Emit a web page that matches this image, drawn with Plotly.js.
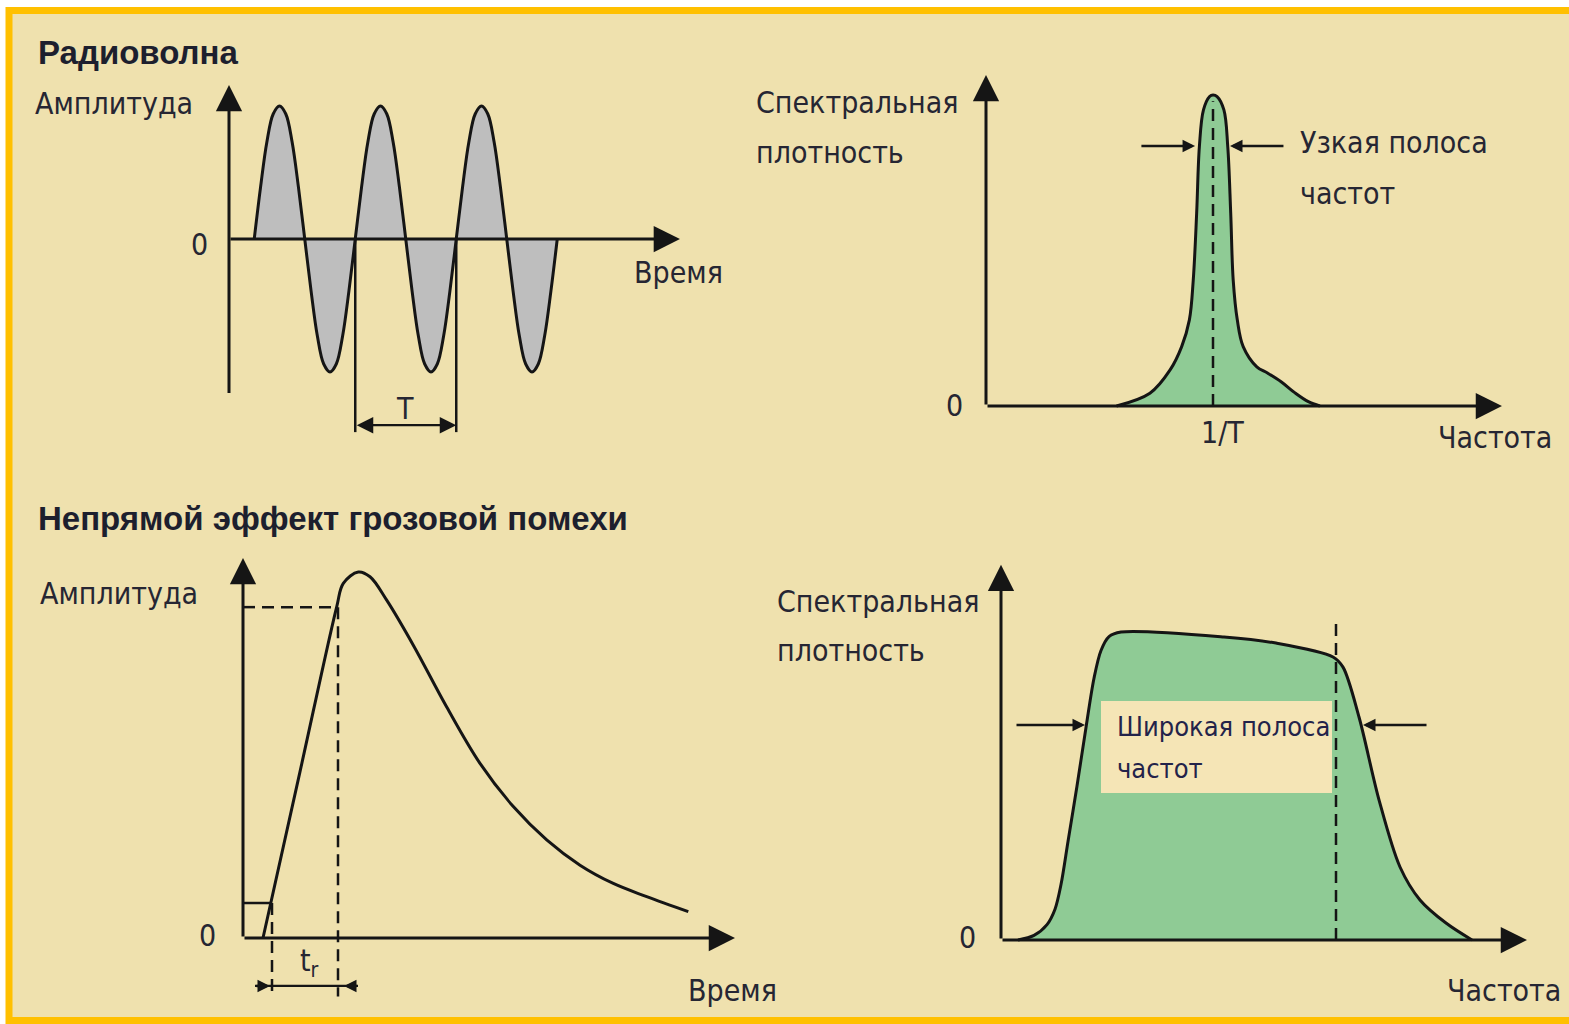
<!DOCTYPE html>
<html><head><meta charset="utf-8">
<script src="https://cdn.plot.ly/plotly-3.0.1.min.js"></script>
<style>html,body{margin:0;padding:0;background:#fff;}#chart{width:1569px;height:1024px;}</style>
</head><body><div id="chart"></div>
<script>
// ---------- data ----------
// Radio wave (time in periods T, amplitude relative)
const waveTime = [0.25,0.3125,0.375,0.4375,0.5,0.5625,0.625,0.6875,0.75,0.8125,0.875,0.9375,1,1.0625,1.125,1.1875,
                  1.25,1.3125,1.375,1.4375,1.5,1.5625,1.625,1.6875,1.75,1.8125,1.875,1.9375,2,2.0625,2.125,2.1875,
                  2.25,2.3125,2.375,2.4375,2.5,2.5625,2.625,2.6875,2.75,2.8125,2.875,2.9375,3,3.0625,3.125,3.1875,3.25];
const waveAmp  = [0,0.39,0.73,0.94,1,0.94,0.73,0.39,0,-0.39,-0.73,-0.94,-1,-0.94,-0.73,-0.39,
                  0,0.39,0.73,0.94,1,0.94,0.73,0.39,0,-0.39,-0.73,-0.94,-1,-0.94,-0.73,-0.39,
                  0,0.39,0.73,0.94,1,0.94,0.73,0.39,0,-0.39,-0.73,-0.94,-1,-0.94,-0.73,-0.39,0];
// Narrow-band spectrum (frequency in units of 1/T)
const narrowFreq = [0.575,0.722,0.811,0.862,0.896,0.913,0.928,0.94,0.958,0.985,1.0,1.018,1.048,1.065,1.078,1.089,1.107,1.133,1.193,1.24,1.30,1.36,1.42,1.471];
const narrowDens = [0,0.041,0.116,0.191,0.277,0.405,0.62,0.834,0.952,0.995,1.0,0.995,0.952,0.834,0.62,0.405,0.277,0.191,0.126,0.106,0.078,0.043,0.014,0];
// Lightning indirect-effect pulse
const pulseTime = [0.2,0.5685,0.937,1.003,1.153,1.27,1.437,1.703,2.037,2.37,2.703,3.037,3.37,3.703,4.037,4.453];
const pulseAmp  = [0,0.4525,0.905,0.969,1.0,0.987,0.923,0.80,0.631,0.477,0.359,0.268,0.199,0.149,0.113,0.072];
const riseLevels = [0.0956, 0.904];   // 10 % and 90 % levels
const riseTimes  = [0.29, 0.95];      // times at which the levels are reached
// Wide-band spectrum
const wideFreq = [0.17,0.33,0.46,0.54,0.6,0.67,0.76,0.85,0.93,1.0,1.08,1.2,2.23,2.75,3.32,3.42,3.58,3.78,3.99,4.19,4.45,4.71];
const wideDens = [0,0.015,0.05,0.1,0.18,0.32,0.5,0.69,0.85,0.94,0.985,1.0,0.984,0.964,0.919,0.886,0.724,0.455,0.237,0.13,0.055,0];
const wideEdge = 3.35;                // dashed cut-off marker
// Texts
const titles = ['Радиоволна','Непрямой эффект грозовой помехи'];
const labelAmp = 'Амплитуда', labelTime = 'Время', labelFreq = 'Частота';
const labelDens = ['Спектральная','плотность'];
const labelNarrow = ['Узкая полоса','частот'];
const labelWide = ['Широкая полоса','частот'];

// ---------- layout helpers ----------
const W = 1569, H = 1024;
const FONT = "'Liberation Sans Narrow','Arial Narrow','DejaVu Sans Condensed','Liberation Sans',Arial,sans-serif";
const TXT = '#262633', INK = '#151515';
const BG = '#EFE1AE', ORANGE = '#FFC000', GREEN = '#8FCB95', GREY = '#BEBEBE', BOXC = '#F5E5B6';
const P = (x, y) => [x / W, 1 - y / H];

const panels = [
  {ox:229, oy:239, sx:101, sy:133, box:[200,70,700,450]},
  {ox:986, oy:406, sx:227, sy:311, box:[960,60,1520,460]},
  {ox:243, oy:938, sx:100, sy:366, box:[220,540,760,1005]},
  {ox:1001,oy:940, sx:100, sy:308, box:[980,550,1540,960]}
];
const layout = {
  width: W, height: H, autosize: false,
  margin: {l:0, r:0, t:0, b:0, pad:0},
  paper_bgcolor: '#FFFFFF', plot_bgcolor: 'rgba(0,0,0,0)',
  showlegend: false, hovermode: false,
  shapes: [], annotations: []
};
panels.forEach((p, i) => {
  const [x0, y0, x1, y1] = p.box;
  const n = i === 0 ? '' : String(i + 1);
  layout['xaxis' + n] = {domain:[x0/W, x1/W], range:[(x0-p.ox)/p.sx, (x1-p.ox)/p.sx], visible:false, fixedrange:true, anchor:'y'+n};
  layout['yaxis' + n] = {domain:[1-y1/H, 1-y0/H], range:[(p.oy-y1)/p.sy, (p.oy-y0)/p.sy], visible:false, fixedrange:true, anchor:'x'+n};
});

// frame
layout.shapes.push({type:'rect', xref:'paper', yref:'paper', layer:'below',
  x0:9/W, x1:1.01, y0:1-1020.5/H, y1:1-10.5/H, fillcolor:BG, line:{color:ORANGE, width:7}});

function line(n, x0, y0, x1, y1, dash, w) {
  layout.shapes.push({type:'line', xref:'x'+n, yref:'y'+n, x0, y0, x1, y1, layer:'above',
    line:{color:INK, width:w || 2.5, dash: dash ? '12px,7px' : 'solid'}});
}
function arrow(n, x, y, ax, ay, opts) {
  layout.annotations.push(Object.assign({xref:'x'+n, yref:'y'+n, axref:'x'+n, ayref:'y'+n,
    x, y, ax, ay, text:'', showarrow:true, arrowhead:2, arrowsize:1.75, arrowwidth:3, arrowcolor:INK}, opts || {}));
}
function label(text, x, y, opts) {
  const [px, py] = P(x, y);
  layout.annotations.push(Object.assign({xref:'paper', yref:'paper', x:px, y:py, text,
    showarrow:false, xanchor:'left', yanchor:'middle', font:{family:FONT, size:30, color:TXT}}, opts || {}));
}
const small = {arrowhead:2, arrowsize:1, arrowwidth:2.5};

// ---------- panel 1 : radio wave ----------
arrow('', 0, 1.158, 0, -1.17);
arrow('', 4.465, 0, 0, 0);
line('', 1.25, 0, 1.25, -1.452);
line('', 2.25, 0, 2.25, -1.452);
arrow('', 2.25, -1.40, 1.25, -1.40, {arrowside:'end+start', arrowhead:2, startarrowhead:2, arrowsize:1.5, startarrowsize:1.5, arrowwidth:2.2});

// ---------- panel 2 : narrow spectrum ----------
arrow('2', 0, 1.064, 0, 0);
arrow('2', 2.273, 0, 0, 0);
line('2', 1, 0, 1, 0.98, true);
arrow('2', 0.921, 0.836, 0.678, 0.836, small);
arrow('2', 1.075, 0.836, 1.317, 0.836, small);

// ---------- panel 3 : pulse ----------
arrow('3', 0, 1.038, 0, 0);
arrow('3', 4.92, 0, 0, 0);
line('3', 0, riseLevels[1], riseTimes[1], riseLevels[1], true);
line('3', riseTimes[1], riseLevels[1], riseTimes[1], -0.16, true);
line('3', 0, riseLevels[0], riseTimes[0], riseLevels[0], false);
line('3', riseTimes[0], riseLevels[0], riseTimes[0], -0.16, true);
line('3', 0.12, -0.131, 1.15, -0.131, false, 2.2);
arrow('3', riseTimes[0] - 0.02, -0.131, 0.12, -0.131, small);
arrow('3', riseTimes[1] + 0.06, -0.131, 1.15, -0.131, small);

// ---------- panel 4 : wide spectrum ----------
arrow('4', 0, 1.218, 0, 0);
arrow('4', 5.26, 0, 0, 0);
layout.shapes.push({type:'rect', xref:'x4', yref:'y4', x0:1.0, x1:3.31, y0:0.477, y1:0.776, fillcolor:BOXC, line:{width:0}, layer:'above'});
line('4', wideEdge, 0, wideEdge, 1.039, true);
arrow('4', 0.84, 0.698, 0.14, 0.698, small);
arrow('4', 3.62, 0.698, 4.27, 0.698, small);

// ---------- texts ----------
const bold = {font:{family:"'Liberation Sans','Arial',sans-serif", size:33, color:'#1d1f2e', weight:700}};
label(titles[0], 36, 52, bold);
label(titles[1], 36, 518, bold);
label(labelAmp, 33, 103);
label(labelAmp, 38, 593);
label('0', 199, 244, {xanchor:'center'});
label('0', 954, 405, {xanchor:'center'});
label('0', 207, 935, {xanchor:'center'});
label('0', 968, 937, {xanchor:'center'});
label(labelTime, 632, 272);
label(labelTime, 686, 990);
label('T', 405, 408, {xanchor:'center'});
label('1/T', 1222, 432, {xanchor:'center'});
label('t<sub>r</sub>', 309, 962, {xanchor:'center'});
label(labelDens[0], 754, 102); label(labelDens[1], 754, 152);
label(labelDens[0], 775, 601); label(labelDens[1], 775, 650);
label(labelFreq, 1436, 437);
label(labelFreq, 1445, 990);
label(labelNarrow[0], 1298, 142); label(labelNarrow[1], 1298, 193);
label(labelWide[0], 1115, 726, {font:{family:FONT, size:27, color:'#23234a'}});
label(labelWide[1], 1115, 768, {font:{family:FONT, size:27, color:'#23234a'}});

// ---------- traces ----------
const traces = [
  {x:waveTime, y:waveAmp, xaxis:'x', yaxis:'y', type:'scatter', mode:'lines', fill:'tozeroy', fillcolor:GREY,
   line:{color:INK, width:3, shape:'spline', smoothing:1}},
  {x:narrowFreq, y:narrowDens, xaxis:'x2', yaxis:'y2', type:'scatter', mode:'lines', fill:'tozeroy', fillcolor:GREEN,
   line:{color:INK, width:3, shape:'spline', smoothing:1}},
  {x:pulseTime, y:pulseAmp, xaxis:'x3', yaxis:'y3', type:'scatter', mode:'lines',
   line:{color:INK, width:3, shape:'spline', smoothing:1}},
  {x:wideFreq, y:wideDens, xaxis:'x4', yaxis:'y4', type:'scatter', mode:'lines', fill:'tozeroy', fillcolor:GREEN,
   line:{color:INK, width:3, shape:'spline', smoothing:0.9}}
];

Plotly.newPlot('chart', traces, layout, {staticPlot:true, displayModeBar:false});
</script></body></html>
